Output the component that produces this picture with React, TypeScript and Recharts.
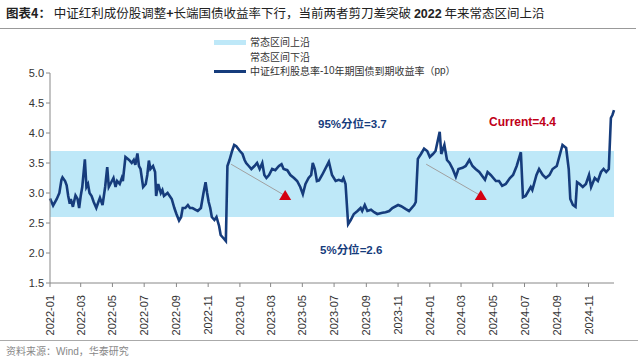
import React from "react";
import {
  Area,
  ComposedChart,
  Line,
  ReferenceDot,
  ReferenceLine,
  XAxis,
  YAxis,
} from "recharts";

// 中证红利股息率-10年期国债到期收益率（pp），读图估计
const dates = [
  "2022-01-01", "2022-01-07", "2022-01-14", "2022-01-19", "2022-01-23", "2022-01-25", "2022-01-30",
  "2022-02-02", "2022-02-05", "2022-02-08", "2022-02-10", "2022-02-14", "2022-02-19", "2022-02-23", "2022-02-26",
  "2022-03-01", "2022-03-04", "2022-03-09", "2022-03-12", "2022-03-15", "2022-03-18", "2022-03-22", "2022-03-26", "2022-03-31",
  "2022-04-04", "2022-04-07", "2022-04-12", "2022-04-17", "2022-04-21", "2022-04-24", "2022-04-27",
  "2022-05-03", "2022-05-07", "2022-05-10", "2022-05-15", "2022-05-19", "2022-05-21", "2022-05-26",
  "2022-06-02", "2022-06-07", "2022-06-11", "2022-06-14", "2022-06-18", "2022-06-21", "2022-06-24", "2022-06-29",
  "2022-07-04", "2022-07-07", "2022-07-10", "2022-07-13", "2022-07-18", "2022-07-22", "2022-07-24", "2022-07-28",
  "2022-08-02", "2022-08-05", "2022-08-08", "2022-08-15", "2022-08-19", "2022-08-23", "2022-08-28",
  "2022-09-01", "2022-09-06", "2022-09-10", "2022-09-13", "2022-09-18", "2022-09-23", "2022-09-27",
  "2022-10-02", "2022-10-08", "2022-10-12", "2022-10-18", "2022-10-23", "2022-10-27", "2022-10-30",
  "2022-11-02", "2022-11-05", "2022-11-08", "2022-11-13", "2022-11-17", "2022-11-22", "2022-11-25", "2022-11-30",
  "2022-12-05", "2022-12-08", "2022-12-12", "2022-12-17", "2022-12-21", "2022-12-25",
  "2023-01-01", "2023-01-06", "2023-01-10", "2023-01-13", "2023-01-18", "2023-01-23", "2023-01-29",
  "2023-02-03", "2023-02-08", "2023-02-13", "2023-02-17", "2023-02-21", "2023-02-26",
  "2023-03-04", "2023-03-10", "2023-03-17", "2023-03-22", "2023-03-26",
  "2023-04-02", "2023-04-08", "2023-04-15", "2023-04-21", "2023-04-27",
  "2023-05-02", "2023-05-07", "2023-05-13", "2023-05-18", "2023-05-21", "2023-05-25", "2023-05-29",
  "2023-06-02", "2023-06-08", "2023-06-21", "2023-06-27",
  "2023-07-04", "2023-07-10", "2023-07-16", "2023-07-19", "2023-07-23", "2023-07-28",
  "2023-08-02", "2023-08-08", "2023-08-15", "2023-08-21", "2023-08-24", "2023-08-29",
  "2023-09-03", "2023-09-10", "2023-09-16", "2023-09-22",
  "2023-10-02", "2023-10-08", "2023-10-15", "2023-10-21",
  "2023-11-01", "2023-11-07", "2023-11-16", "2023-11-22",
  "2023-12-02", "2023-12-05", "2023-12-09", "2023-12-15", "2023-12-21", "2023-12-27",
  "2024-01-01", "2024-01-07", "2024-01-12", "2024-01-20", "2024-01-23", "2024-01-29",
  "2024-02-03", "2024-02-08", "2024-02-14", "2024-02-20", "2024-02-25",
  "2024-03-04", "2024-03-10", "2024-03-17", "2024-03-23", "2024-03-29",
  "2024-04-05", "2024-04-16", "2024-04-21", "2024-04-27",
  "2024-05-07", "2024-05-13", "2024-05-19", "2024-05-26",
  "2024-06-03", "2024-06-09", "2024-06-16", "2024-06-24", "2024-06-28",
  "2024-07-03", "2024-07-13", "2024-07-16", "2024-07-24", "2024-07-29",
  "2024-08-05", "2024-08-11", "2024-08-18", "2024-08-24",
  "2024-09-01", "2024-09-12", "2024-09-19", "2024-09-24", "2024-09-27",
  "2024-10-02", "2024-10-07", "2024-10-10", "2024-10-15", "2024-10-21", "2024-10-27",
  "2024-11-02", "2024-11-06", "2024-11-13", "2024-11-19", "2024-11-25", "2024-11-30",
  "2024-12-05", "2024-12-10", "2024-12-14", "2024-12-17", "2024-12-20",
];

const spread = [
  2.91, 2.79, 2.9, 3.0, 3.22, 3.26, 3.2,
  3.13, 2.95, 2.82, 2.9, 2.77, 2.96, 2.9, 2.75,
  2.95, 3.1, 3.56, 3.1, 3.15, 3.0, 2.95, 2.85, 2.75,
  2.85, 2.92, 2.8, 3.1, 3.43, 3.1, 3.15,
  3.25, 3.1, 3.2, 3.15, 3.25, 3.2, 3.6,
  3.55, 3.5, 3.55, 3.47, 3.66, 3.45, 3.4, 3.1,
  3.15, 3.3, 3.54, 3.4, 3.45, 3.35, 2.95, 3.15,
  3.0, 3.05, 2.95, 3.0, 2.95, 2.9, 2.75,
  2.65, 2.54, 2.6, 2.75, 2.75, 2.8, 2.75,
  2.75, 2.72, 2.7, 2.75, 3.0, 3.18, 3.0,
  2.85, 2.75, 2.6, 2.55, 2.6, 2.45, 2.3, 2.25,
  2.2, 3.45, 3.55, 3.7, 3.8, 3.78,
  3.7, 3.65, 3.55, 3.5, 3.45, 3.4, 3.45,
  3.5, 3.4, 3.5, 3.3, 3.25, 3.3,
  3.4, 3.38, 3.45, 3.48, 3.4,
  3.38, 3.3, 3.25, 3.2, 3.1,
  2.98, 3.15, 3.25, 3.3, 3.5, 3.4, 3.2,
  3.21, 3.3, 3.52, 3.3,
  3.2, 3.22, 3.2, 3.25, 3.15, 2.48,
  2.55, 2.65, 2.7, 2.75, 2.7, 2.8,
  2.7, 2.72, 2.68, 2.65,
  2.67, 2.68, 2.7, 2.75,
  2.8, 2.78, 2.73, 2.7,
  2.8, 2.85, 3.57, 3.65, 3.74, 3.7,
  3.6, 3.65, 3.7, 4.02, 3.65, 3.8,
  3.55, 3.5, 3.4, 3.27, 3.4,
  3.42, 3.45, 3.55, 3.45, 3.4,
  3.35, 3.22, 3.35, 3.3,
  3.2, 3.2, 3.12, 3.15,
  3.25, 3.3, 3.45, 3.68, 2.93,
  2.95, 3.1, 3.05, 3.3, 3.4,
  3.3, 3.25, 3.3, 3.4,
  3.45, 3.8, 3.75, 3.4, 2.9,
  2.8, 2.77, 3.18, 3.15, 3.1, 3.15,
  3.3, 3.1, 3.25, 3.2, 3.35, 3.4,
  3.35, 3.4, 4.25, 4.3, 4.38,
];

const upperBand = 3.7; // 常态区间上沿（95%分位）
const lowerBand = 2.6; // 常态区间下沿（5%分位）

const tickMonths = [
  "2022-01", "2022-03", "2022-05", "2022-07", "2022-09", "2022-11",
  "2023-01", "2023-03", "2023-05", "2023-07", "2023-09", "2023-11",
  "2024-01", "2024-03", "2024-05", "2024-07", "2024-09", "2024-11",
];
const yTicks = [1.5, 2.0, 2.5, 3.0, 3.5, 4.0, 4.5, 5.0];

const toTs = (s: string) => Date.parse(s + "T00:00:00Z");

const chartData = dates.map((d, i) => ({
  t: toTs(d),
  spread: spread[i],
  band: [lowerBand, upperBand],
}));

const xTicks = tickMonths.map((m) => toTs(m + "-01"));
const fmtMonth = (t: number) => {
  const d = new Date(t);
  return `${d.getUTCFullYear()}-${String(d.getUTCMonth() + 1).padStart(2, "0")}`;
};

// 灰色箭头（起点、终点）
const arrows = [
  { from: ["2022-12-15", 3.48], to: ["2023-03-26", 2.97] },
  { from: ["2023-12-25", 3.48], to: ["2024-04-05", 2.97] },
];

const NAVY = "#163C7C";
const BAND = "#BEE8F8";
const FONT = "Arial, 'Liberation Sans', 'Noto Sans CJK SC', sans-serif";
const CJK = "'Noto Sans CJK SC', sans-serif";

const Triangle = (props: any) => {
  const { cx, cy } = props;
  if (cx == null || cy == null) return null;
  return (
    <polygon
      points={`${cx},${cy - 6} ${cx - 6},${cy + 4} ${cx + 6},${cy + 4}`}
      fill="#D40010"
    />
  );
};

const XTick = (props: any) => {
  const { x, y, payload } = props;
  return (
    <text
      x={x}
      y={y + 6}
      transform={`rotate(-90 ${x} ${y + 6})`}
      textAnchor="end"
      dominantBaseline="central"
      fontSize={11}
      fontFamily={FONT}
      fill="#333"
    >
      {fmtMonth(payload.value)}
    </text>
  );
};

const legendRow = { display: "flex", alignItems: "center", height: 14.5 } as const;

export default function App() {
  return (
    <div
      style={{
        position: "absolute",
        left: 0,
        top: 0,
        width: 640,
        height: 357,
        background: "#fff",
        fontFamily: CJK,
      }}
    >
      <div
        style={{
          position: "absolute",
          left: 6,
          top: 3,
          fontSize: 12.5,
          color: "#222",
          whiteSpace: "nowrap",
        }}
      >
        <b>图表4：</b> 中证红利成份股调整<b>+</b>长端国债收益率下行，当前两者剪刀差突破{" "}
        <b style={{ fontFamily: FONT }}>2022</b> 年来常态区间上沿
      </div>
      <div
        style={{
          position: "absolute",
          left: 0,
          top: 28,
          width: 636,
          height: 1,
          background: "#999",
        }}
      />

      <ComposedChart
        width={640}
        height={357}
        data={chartData}
        margin={{ top: 73, right: 26, left: 0, bottom: 0 }}
      >
        <XAxis
          dataKey="t"
          type="number"
          scale="time"
          domain={[chartData[0].t, chartData[chartData.length - 1].t]}
          ticks={xTicks}
          tick={<XTick />}
          tickLine={{ stroke: "#888" }}
          tickSize={4}
          axisLine={{ stroke: "#888" }}
          height={74}
          interval={0}
        />
        <YAxis
          type="number"
          domain={[1.5, 5]}
          ticks={yTicks}
          tickFormatter={(v: number) => v.toFixed(1)}
          tick={{ fontSize: 11, fill: "#333", fontFamily: FONT }}
          tickLine={{ stroke: "#888" }}
          tickSize={4}
          axisLine={{ stroke: "#888" }}
          width={50}
          interval={0}
        />
        <Area
          dataKey="band"
          type="linear"
          stroke="none"
          fill={BAND}
          fillOpacity={1}
          isAnimationActive={false}
          dot={false}
          activeDot={false}
        />
        {arrows.map((a, i) => (
          <ReferenceLine
            key={`arrow-${i}`}
            segment={[
              { x: toTs(a.from[0] as string), y: a.from[1] as number },
              { x: toTs(a.to[0] as string), y: a.to[1] as number },
            ]}
            stroke="#A0A0A0"
            strokeWidth={1}
          />
        ))}
        <Line
          dataKey="spread"
          type="linear"
          stroke={NAVY}
          strokeWidth={2.6}
          dot={false}
          activeDot={false}
          isAnimationActive={false}
        />
        {arrows.map((a, i) => (
          <ReferenceDot
            key={`tri-${i}`}
            x={toTs(a.to[0] as string) + 3 * 86400000}
            y={(a.to[1] as number) - 0.02}
            shape={<Triangle />}
          />
        ))}
      </ComposedChart>

      {/* 图例 */}
      <div style={{ position: "absolute", left: 214, top: 35, fontSize: 10, color: "#333", lineHeight: "14.5px" }}>
        <div style={legendRow}>
          <span style={{ display: "inline-block", width: 32, height: 5, background: BAND, marginRight: 4 }} />
          常态区间上沿
        </div>
        <div style={legendRow}>
          <span style={{ display: "inline-block", width: 32, height: 5, background: "#fff", marginRight: 4 }} />
          常态区间下沿
        </div>
        <div style={legendRow}>
          <span style={{ display: "inline-block", width: 32, height: 2.5, background: NAVY, marginRight: 4 }} />
          中证红利股息率<span style={{ fontFamily: FONT }}>-10</span>年期国债到期收益率（<span style={{ fontFamily: FONT }}>pp</span>）
        </div>
      </div>

      {/* 标注 */}
      <div style={{ position: "absolute", left: 318, top: 115, fontSize: 11.5, fontWeight: "bold", color: NAVY, whiteSpace: "nowrap" }}>
        <span style={{ fontFamily: FONT }}>95%</span>分位<span style={{ fontFamily: FONT }}>=3.7</span>
      </div>
      <div style={{ position: "absolute", left: 320, top: 241, fontSize: 11.5, fontWeight: "bold", color: NAVY, whiteSpace: "nowrap" }}>
        <span style={{ fontFamily: FONT }}>5%</span>分位<span style={{ fontFamily: FONT }}>=2.6</span>
      </div>
      <div style={{ position: "absolute", left: 489, top: 115, fontSize: 12, fontWeight: "bold", color: "#C00018", fontFamily: FONT, whiteSpace: "nowrap" }}>
        Current=4.4
      </div>

      {/* 资料来源 */}
      <div style={{ position: "absolute", left: 0, top: 340, width: 638, height: 1, background: "#aaa" }} />
      <div style={{ position: "absolute", left: 6, top: 343, fontSize: 10, color: "#888", whiteSpace: "nowrap" }}>
        资料来源：<span style={{ fontFamily: FONT }}>Wind</span>，华泰研究
      </div>
    </div>
  );
}
